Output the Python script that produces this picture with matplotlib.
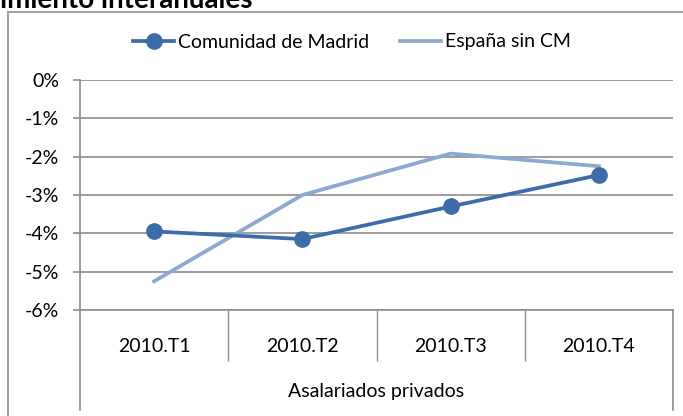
import matplotlib.pyplot as plt
import matplotlib.patches as mpatches
import numpy as np

plt.rcParams['font.family'] = ['Lato', 'DejaVu Sans']

categories = ['2010.T1', '2010.T2', '2010.T3', '2010.T4']
group_label = 'Asalariados privados'
madrid = [-3.95, -4.15, -3.3, -2.48]
espana = [-5.25, -3.0, -1.92, -2.25]
yticks = [0, -1, -2, -3, -4, -5, -6]

W, H = 683, 416
fig = plt.figure(figsize=(W / 100, H / 100), dpi=100)

# outer chart frame (cut off at right/bottom like the original)
fig.patches.append(mpatches.Rectangle((8 / W, -0.2), 2, (H - 12) / H + 0.2,
                                      transform=fig.transFigure, fill=False,
                                      edgecolor='#9a9a9a', linewidth=1.3))
# truncated title at top
fig.text(0.0, (H - 8) / H, 'imiento interanuales', fontsize=20, fontweight='bold',
         va='baseline', ha='left', color='black')

ax = fig.add_axes([80 / W, (H - 310) / H, (673 - 80) / W, 230 / H])
x = np.arange(len(categories))
ax.plot(x, madrid, color='#3d6ca8', lw=2.7, marker='o', ms=11, zorder=3,
        label='Comunidad de Madrid')
ax.plot(x, espana, color='#8ea8d2', lw=2.7, zorder=2, label='España sin CM')

ax.set_xlim(-0.5, 3.5)
ax.set_ylim(-6, 0)
ax.set_yticks(yticks)
ax.set_yticklabels([f'{v}%' for v in yticks], fontsize=14)
ax.yaxis.grid(True, color='#8c8c8c', lw=1.2)
ax.set_axisbelow(True)
ax.tick_params(axis='y', length=5, color='#8c8c8c', width=1.2, pad=10)

for s in ['top', 'right']:
    ax.spines[s].set_visible(False)
ax.spines['left'].set_color('#8c8c8c')
ax.spines['bottom'].set_color('#8c8c8c')
ax.spines['left'].set_linewidth(1.2)
ax.spines['bottom'].set_linewidth(1.2)

ax.set_xticks(x)
ax.set_xticklabels(categories, fontsize=14)
ax.tick_params(axis='x', length=0, pad=20)
ax.set_xticks(x[:-1] + 0.5, minor=True)
ax.tick_params(axis='x', which='minor', length=37, color='#8c8c8c', width=1)

tr = ax.get_xaxis_transform()
for xe in [-0.5, 3.5]:
    ax.plot([xe, xe], [0, -100 / 230], transform=tr, clip_on=False,
            color='#8c8c8c', lw=1.2)
ax.text(1.5, -82 / 230, group_label, transform=tr, ha='center', va='center',
        fontsize=14)

fig.legend(loc='center', bbox_to_anchor=(352 / W, (H - 42) / H), ncol=2,
           frameon=False, fontsize=14, handlelength=2.1, handletextpad=0.2,
           columnspacing=1.6)

fig.savefig('out.png', dpi=100)
